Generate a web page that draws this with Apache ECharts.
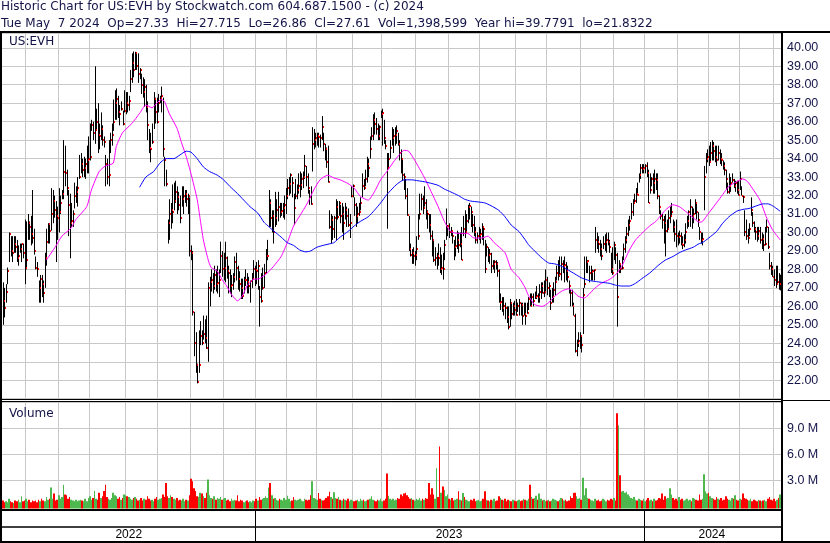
<!DOCTYPE html>
<html><head><meta charset="utf-8"><title>US:EVH</title>
<script src="https://cdn.jsdelivr.net/npm/echarts@6.0.0/dist/echarts.min.js"></script>
<style>html,body{margin:0;padding:0;background:#fff;}#chart{width:830px;height:543px;}</style>
</head><body><div id="chart"></div>
<script>
// ---------------- data ----------------
const firstDay = '2022-05-10';
const lastDay = '2024-05-07';
const marketHolidays = ['2022-05-30','2022-06-20','2022-07-04','2022-09-05','2022-11-24','2022-12-26',
  '2023-01-02','2023-01-16','2023-02-20','2023-04-07','2023-05-29','2023-06-19','2023-07-04','2023-09-04','2023-11-23','2023-12-25',
  '2024-01-01','2024-01-15','2024-02-19','2024-03-29'];
const headerLine1 = 'Historic Chart for US:EVH by Stockwatch.com 604.687.1500 - (c) 2024';
const headerLine2 = 'Tue May  7 2024  Op=27.33  Hi=27.715  Lo=26.86  Cl=27.61  Vol=1,398,599  Year hi=39.7791  lo=21.8322';
const symbolLabel = 'US:EVH';
const volumeLabel = 'Volume';
const priceRange = [21, 40.8];
const priceLabelRange = [22, 40];
const priceStep = 1;
const volumeRange = [0, 12];   // millions
const volumeStep = 3;

const high = [
27.3,27.0,27.2,28.1,30.0,29.8,29.8,29.8,29.8,29.6,
29.3,29.4,29.4,29.4,30.7,30.6,31.0,30.6,30.9,32.3,
30.2,28.7,28.4,27.4,27.7,27.7,27.4,28.9,30.2,30.5,
30.5,32.4,32.3,32.0,31.7,31.4,32.4,32.0,32.3,35.0,
34.7,33.4,32.3,32.1,31.6,31.2,32.7,32.5,33.0,34.2,
34.3,34.0,34.1,34.0,34.7,35.2,35.9,36.1,36.0,39.0,
36.7,37.0,35.9,36.5,35.8,35.2,34.2,34.0,35.0,35.4,
35.9,37.2,37.7,37.8,37.4,36.9,37.1,36.6,37.7,37.6,
37.6,37.4,38.8,39.7,39.8,39.78,39.7,39.7,38.9,38.6,
38.4,38.3,38.0,37.1,35.6,35.4,35.9,37.6,37.3,37.3,
37.5,37.4,37.9,37.3,34.1,33.4,30.7,31.8,31.6,32.6,
32.7,32.8,32.5,32.2,32.0,32.5,32.5,32.3,32.3,32.1,
31.9,29.3,29.0,25.7,24.6,22.9,24.7,25.2,24.7,25.5,
25.3,25.5,27.3,27.6,28.0,27.8,28.2,28.0,28.2,28.0,
29.5,29.0,28.9,29.5,28.7,28.2,28.0,27.7,27.8,28.7,
28.9,28.2,27.9,27.5,27.5,27.6,28.0,27.8,27.6,27.4,
27.8,28.5,28.2,28.4,28.5,27.1,27.8,28.1,28.3,29.1,
29.6,32.3,31.8,31.2,31.2,32.2,31.8,32.2,31.6,31.6,
31.6,32.0,32.4,32.9,33.0,33.2,33.0,32.1,32.9,32.6,
33.2,33.3,33.2,33.3,34.2,33.6,33.2,32.3,32.5,35.7,
35.6,35.4,35.4,35.4,35.3,36.3,35.4,34.8,34.6,34.7,
31.2,31.0,30.9,30.9,31.8,31.7,31.7,31.5,31.6,31.4,
31.6,31.4,31.3,31.0,32.5,32.6,31.9,31.6,31.4,31.6,
31.9,33.2,32.9,33.4,34.1,34.0,35.2,35.7,36.4,36.5,
36.2,35.9,35.8,36.6,36.7,36.1,35.0,34.3,34.3,35.0,
35.7,35.6,35.7,35.8,35.4,35.0,34.5,34.0,33.2,32.9,
32.4,30.9,29.4,29.1,29.2,29.0,29.8,31.0,32.1,32.1,
32.0,32.5,31.8,31.2,31.0,31.0,30.1,29.6,29.2,28.9,
29.4,29.2,28.8,28.9,29.6,31.3,30.4,30.5,30.3,30.1,
29.6,29.8,30.1,30.0,30.0,30.3,30.9,31.2,31.0,31.5,
31.6,31.4,31.0,30.9,30.3,30.0,30.3,30.2,30.5,30.3,
29.6,29.4,29.2,29.1,28.9,28.5,28.5,28.5,28.4,28.0,
26.7,26.5,26.5,26.2,26.0,26.0,26.4,26.2,26.2,26.3,
26.4,26.2,26.4,26.2,26.2,26.2,26.2,26.2,26.5,26.7,
26.7,26.7,26.8,27.1,26.7,27.2,27.3,27.3,27.4,28.0,
27.6,27.3,26.9,27.0,27.3,27.6,28.2,28.5,28.7,28.7,
28.5,28.7,28.4,28.2,27.4,26.9,26.9,26.2,25.6,24.2,
24.6,24.6,24.4,27.0,28.7,28.7,28.5,28.2,28.2,28.0,
28.0,30.3,30.0,29.8,29.6,29.4,29.8,29.9,30.0,30.0,
29.6,28.9,29.2,29.5,29.2,28.9,28.5,28.3,28.7,29.4,
29.8,30.3,30.7,30.9,31.6,31.8,32.1,32.4,32.7,33.2,
33.7,33.7,33.7,33.7,33.8,33.4,33.2,33.0,33.2,33.4,
33.2,33.2,32.0,31.2,31.0,30.9,31.0,30.7,31.2,31.4,
31.6,30.7,30.6,30.7,30.0,30.1,30.0,29.8,29.9,30.5,
30.9,31.2,31.8,31.4,31.3,31.8,31.6,31.1,30.3,30.0,
30.0,33.6,34.3,34.5,34.7,34.9,35.0,34.9,34.7,34.7,
34.7,34.5,34.3,33.9,33.8,33.4,32.7,33.2,33.0,33.2,
32.9,32.8,32.8,32.8,33.3,32.5,32.0,31.2,30.7,30.2,
30.5,31.9,31.1,30.6,30.3,30.3,30.3,30.3,30.0,29.9,
30.3,30.7,30.3,28.9,28.4,28.2,28.0,28.2,28.2,27.8,
27.715];

const low = [
25.0,25.4,26.2,27.2,28.4,28.7,28.4,28.9,28.9,28.4,
28.2,28.9,28.4,28.6,27.2,28.0,29.6,29.6,29.3,29.4,
28.8,28.0,27.6,26.2,26.2,26.5,26.2,27.0,28.2,29.4,
29.4,30.1,30.5,30.8,28.4,29.6,30.0,31.0,31.8,31.8,
32.5,32.0,29.8,28.6,30.3,30.3,31.3,31.6,31.4,32.9,
33.2,33.0,33.0,32.9,33.2,33.2,33.9,35.5,35.0,34.8,
35.5,34.3,34.5,35.0,34.7,34.6,32.5,32.6,32.5,34.3,
34.7,35.5,36.1,36.1,36.2,35.8,36.6,35.8,36.5,36.4,
36.5,36.6,37.6,38.1,38.4,38.8,38.8,38.1,38.3,37.5,
37.3,36.8,36.5,35.0,34.3,33.8,34.8,35.6,35.9,35.9,
36.5,37.0,36.5,34.1,32.5,32.5,29.4,29.6,30.2,30.5,
31.2,31.6,31.0,31.2,30.5,31.4,31.0,31.6,31.4,31.0,
28.7,28.5,25.5,23.3,22.4,21.83,22.4,23.9,23.9,24.2,
24.0,23.7,23.0,26.0,26.8,26.7,26.9,26.8,26.7,26.5,
27.8,27.6,27.4,27.3,27.5,26.7,26.7,26.5,26.9,27.3,
27.4,26.9,26.8,26.4,26.4,26.7,27.1,26.7,26.7,26.2,
27.0,27.5,27.1,27.2,26.9,24.9,26.2,26.9,27.0,27.8,
28.5,30.3,30.3,30.0,29.4,30.3,30.4,30.6,30.8,30.9,
30.8,30.7,31.0,31.8,32.0,32.1,31.9,30.4,31.8,31.8,
32.1,31.9,32.3,32.4,32.9,32.5,32.1,31.5,31.5,33.3,
34.5,34.6,34.7,34.6,34.6,35.0,34.4,33.9,33.5,32.7,
30.2,29.4,29.6,29.7,29.6,30.7,30.9,30.5,30.0,29.6,
30.7,30.3,30.3,29.7,31.9,31.9,30.9,30.3,30.5,30.9,
31.2,31.9,32.3,32.5,32.7,33.0,34.0,35.0,35.0,35.3,
35.3,35.0,35.0,36.2,34.7,34.8,34.5,30.2,33.5,34.0,
34.7,34.3,34.7,34.8,34.7,33.9,33.2,32.8,32.3,31.8,
30.9,29.0,28.7,28.3,28.3,28.2,28.5,29.6,30.7,31.2,
31.0,31.4,30.7,30.2,30.0,29.6,28.7,28.4,28.2,28.0,
28.2,27.8,27.7,27.45,28.5,29.6,29.8,29.7,29.8,29.4,
28.5,28.7,29.1,28.9,29.2,28.5,29.8,29.7,30.0,30.5,
30.7,30.3,30.0,29.8,29.4,29.4,29.6,29.4,29.6,29.3,
27.8,28.7,28.4,28.3,27.8,28.0,27.8,28.0,27.6,26.2,
25.8,25.7,25.5,25.3,25.1,24.75,24.9,25.3,25.5,25.5,
25.5,25.7,25.5,25.5,25.0,25.5,25.0,25.6,25.8,26.0,
26.0,26.0,26.4,26.4,26.2,26.2,26.4,26.7,26.5,26.7,
26.6,26.5,25.8,26.2,26.2,26.6,27.4,27.4,27.6,27.4,
27.8,27.3,27.4,27.3,26.7,26.0,26.0,25.5,23.5,23.3,
23.8,23.7,23.5,24.5,27.0,27.8,27.8,27.3,27.4,27.4,
27.4,28.9,29.1,28.9,28.7,28.5,29.1,29.0,28.9,29.3,
28.9,27.8,27.7,28.5,28.3,24.9,27.8,27.8,28.0,28.5,
28.9,29.4,29.8,30.1,30.7,30.9,31.6,31.6,32.0,32.7,
32.9,33.2,33.2,33.2,33.0,31.6,32.1,32.5,32.1,32.1,
32.3,31.8,31.0,30.7,30.2,29.4,28.7,30.0,30.2,30.5,
30.9,30.0,29.5,29.2,29.3,29.4,29.3,29.1,29.2,29.4,
30.2,30.3,30.3,30.2,30.5,31.0,30.7,30.3,29.6,29.4,
29.3,31.2,33.2,33.8,33.6,33.8,33.9,33.9,33.8,33.6,
33.9,33.7,33.6,33.4,33.1,32.3,32.1,32.1,32.2,32.7,
32.4,32.2,32.1,32.0,32.3,32.0,31.6,29.8,29.6,29.4,
29.8,30.9,30.3,30.0,29.6,29.5,29.6,29.4,29.1,29.0,
29.3,30.0,29.1,28.0,27.7,27.6,27.1,27.0,27.2,26.9,
26.86];

const close = [
26.3,25.9,26.8,27.9,29.9,29.0,28.9,29.4,29.2,28.6,
28.7,29.1,29.35,28.9,28.1,28.5,30.5,30.3,29.9,29.7,
29.0,28.05,28.0,27.0,27.5,27.2,26.7,28.6,29.5,30.45,
30.1,31.0,31.7,31.2,30.9,30.8,31.1,31.6,32.1,33.3,
33.2,32.4,31.5,30.5,30.6,31.0,32.0,32.2,32.4,33.0,
33.7,33.4,33.5,33.7,33.9,34.0,34.1,35.8,35.4,35.55,
36.0,35.3,35.2,35.6,35.0,34.9,33.7,33.0,33.1,35.0,
35.3,36.0,37.0,37.2,36.5,36.4,36.7,35.9,36.6,37.0,
36.9,37.1,38.3,39.2,38.8,39.7,39.0,38.6,38.8,38.0,
37.6,37.9,36.8,35.8,34.6,34.5,34.9,37.2,36.5,36.0,
37.0,37.3,37.4,34.5,33.9,32.6,30.5,31.0,31.2,31.1,
31.7,32.2,31.9,31.5,30.8,31.8,32.0,32.1,31.8,32.0,
29.0,28.9,25.7,24.0,22.85,21.9,22.8,24.4,24.0,24.5,
24.3,23.75,27.0,27.3,27.4,27.1,27.7,27.2,27.25,27.4,
28.7,28.0,28.1,28.6,27.9,27.8,27.1,27.15,27.6,28.4,
28.1,27.5,27.2,27.0,26.55,27.4,27.45,27.3,27.1,27.35,
27.5,28.0,27.95,27.9,28.2,26.5,26.3,27.0,27.8,28.7,
28.75,31.6,30.8,30.9,30.0,30.8,31.2,31.4,31.1,31.15,
31.3,31.5,32.0,32.4,32.6,33.1,32.7,31.3,32.0,32.3,
32.5,32.55,32.9,33.0,33.6,33.0,32.4,31.9,31.55,34.8,
35.0,35.1,35.2,35.15,35.1,35.7,34.8,34.5,33.8,32.75,
30.3,30.7,30.2,30.8,31.4,30.85,31.6,30.9,31.0,30.5,
31.2,30.9,30.4,30.5,32.0,32.5,31.5,30.9,31.0,31.1,
31.6,32.5,32.4,32.9,33.7,33.5,34.5,35.2,36.1,35.9,
35.6,35.25,35.7,36.4,36.45,35.1,34.7,33.5,34.0,34.6,
35.1,35.2,35.3,35.5,34.8,34.3,34.0,33.1,33.0,31.95,
30.95,29.1,28.8,28.9,28.7,28.8,29.1,29.8,31.0,31.8,
31.3,31.6,31.1,31.0,30.4,29.8,29.6,28.5,28.6,28.7,
28.6,28.0,28.05,28.0,29.3,30.3,30.35,30.0,30.1,29.8,
29.2,29.25,29.6,29.3,29.35,28.5,30.2,30.0,30.6,31.4,
31.45,31.1,30.4,30.0,29.6,29.8,29.85,29.9,30.3,30.2,
28.0,29.2,28.8,28.85,28.2,28.3,28.4,28.3,27.9,26.2,
26.25,25.9,26.0,25.9,25.4,24.9,26.2,25.6,26.0,25.8,
25.55,26.0,26.2,26.05,25.5,25.6,25.5,25.65,26.4,26.0,
26.5,26.3,26.5,26.55,26.5,26.8,27.1,26.7,26.75,27.4,
27.0,27.1,26.2,26.5,26.9,27.3,27.8,27.7,27.75,28.3,
28.2,28.25,27.9,27.6,27.1,26.7,26.0,25.5,23.6,24.0,
24.1,24.4,23.9,26.6,27.2,28.4,28.45,27.8,27.85,27.9,
27.95,29.6,29.5,29.4,29.1,28.7,29.4,29.5,29.6,29.5,
29.2,28.0,27.8,29.3,28.8,26.5,28.3,28.0,28.05,29.1,
29.6,29.9,30.4,30.6,31.1,31.6,31.7,32.1,32.05,33.1,
33.5,33.45,33.5,33.6,33.2,31.6,32.3,32.9,32.7,32.9,
32.85,31.95,31.4,30.9,30.7,30.5,30.1,30.2,30.8,30.9,
31.1,30.3,29.9,29.8,29.75,29.8,29.4,29.3,29.6,30.0,
30.6,31.1,31.4,30.9,31.0,31.6,31.1,30.7,30.0,29.6,
29.65,33.0,34.0,34.1,33.8,34.3,34.7,34.4,34.1,33.9,
34.3,34.0,33.95,33.6,33.4,32.9,32.2,32.5,32.7,32.85,
32.5,32.7,32.3,32.05,32.9,32.0,31.9,30.0,29.8,29.7,
30.2,31.2,30.5,30.2,30.0,29.8,30.1,29.6,29.65,29.3,
29.4,30.3,29.2,28.2,28.0,27.6,27.4,27.2,27.3,27.2,
27.61];

// daily volume, millions of shares
const volumeM = [
0.7,0.5,0.6,0.5,0.9,0.6,0.5,0.4,0.7,0.6,
0.8,0.5,1.2,0.6,0.7,0.9,0.6,0.8,0.5,0.7,
0.6,0.7,0.5,0.8,0.6,0.9,0.7,0.6,1.1,0.8,
0.9,2.2,0.9,1.5,0.7,0.8,1.3,0.9,1.1,2.5,
1.4,1.3,0.9,1.1,0.8,0.7,0.6,0.8,0.6,0.7,
0.8,0.7,0.6,0.9,0.6,1.0,1.2,0.8,1.0,1.8,
0.9,0.8,1.6,1.0,1.2,1.8,2.5,1.1,0.9,0.8,
1.0,1.6,1.3,1.2,0.9,1.1,0.8,1.0,1.4,1.3,
1.2,1.1,0.9,0.8,1.0,1.1,0.9,0.7,0.8,1.0,
0.7,0.9,0.8,1.2,0.9,0.7,0.8,0.6,0.9,1.1,
0.8,0.9,1.0,1.4,1.1,2.7,1.2,1.0,1.3,1.1,
0.9,0.8,1.0,0.7,0.8,0.7,0.9,0.6,0.8,0.7,
1.3,3.2,2.9,2.1,1.8,1.2,1.1,1.6,1.5,1.2,
1.0,1.6,3.1,1.3,1.0,0.9,1.2,0.8,1.0,0.9,
1.1,0.8,0.9,1.0,0.7,0.8,0.6,0.9,0.7,0.8,
0.7,1.3,0.6,0.8,0.7,0.5,0.6,0.7,0.5,0.6,
0.5,0.7,0.6,0.9,0.7,1.1,0.8,0.9,1.0,1.2,
1.0,2.2,2.7,1.3,0.9,1.0,0.8,0.7,0.9,0.8,
0.7,1.0,0.8,1.25,0.9,0.6,0.7,1.1,0.8,0.7,
0.8,0.9,0.7,0.6,0.9,0.8,0.7,0.8,1.3,2.9,
1.0,0.9,0.8,1.55,0.9,0.8,0.7,0.8,1.0,1.2,
1.7,1.1,0.9,1.65,1.0,0.9,1.1,0.8,0.7,0.9,
0.8,0.7,0.9,0.6,0.8,0.7,0.6,0.7,0.8,0.6,
0.9,0.7,0.8,0.6,0.7,0.8,0.9,1.2,0.8,0.7,
0.6,0.8,0.7,0.9,0.6,0.7,0.9,3.8,1.25,0.9,
0.8,0.9,0.7,0.8,1.0,0.9,1.4,1.2,1.5,1.6,
1.3,1.1,0.9,1.0,0.8,0.7,0.9,0.8,1.0,0.7,
0.9,0.8,1.0,0.9,2.7,1.4,2.1,1.4,0.9,4.4,
1.1,6.9,1.6,2.3,1.9,1.2,1.4,0.9,0.8,1.0,
0.7,0.8,0.9,1.75,0.8,0.7,1.55,1.1,0.8,0.7,
0.6,0.8,0.7,0.9,0.6,0.7,0.8,0.6,0.7,0.9,
1.75,0.8,0.7,0.6,0.8,0.7,0.9,0.6,0.7,1.2,
1.0,0.8,0.7,0.9,0.6,0.8,0.7,0.6,0.8,0.7,
0.6,0.7,0.8,0.6,0.7,0.9,0.8,0.7,0.9,2.5,
1.1,0.9,1.0,1.25,0.8,1.5,0.9,0.7,0.8,0.6,
0.7,0.8,0.6,0.7,0.9,0.8,0.7,0.6,0.8,1.0,
0.9,0.7,0.8,0.6,0.7,1.2,1.0,1.55,1.6,1.2,
0.9,1.0,0.8,3.3,1.3,2.1,1.0,0.9,0.8,0.7,
0.6,0.9,0.7,0.8,0.6,0.7,0.9,0.8,0.6,0.8,
0.7,0.9,0.8,1.0,0.7,10.7,9.3,3.6,1.7,1.8,
1.6,1.7,1.4,1.2,1.0,0.9,1.1,0.8,0.7,0.9,
0.8,0.7,0.9,0.6,0.8,1.0,0.7,0.8,0.6,0.9,
0.7,0.8,1.0,0.9,1.5,0.8,1.2,0.9,1.0,2.1,
1.4,1.0,0.8,0.9,0.7,1.1,0.8,0.9,0.7,0.8,
0.9,0.7,0.8,0.6,1.0,0.9,0.8,0.7,1.4,0.8,
0.9,3.7,1.75,1.5,1.6,1.2,1.0,0.9,0.8,1.1,
0.9,0.8,1.0,0.7,0.8,1.2,0.9,0.8,0.7,1.0,
0.9,1.3,0.8,0.7,0.9,0.8,1.5,1.0,0.9,0.8,
0.7,0.9,0.6,0.8,0.7,0.6,0.8,0.7,0.6,0.7,
0.8,0.6,0.9,1.1,0.8,0.7,0.9,0.6,0.8,1.0,
1.4];

// moving averages: [trading-day index, price]
const maFast = [[28,28.5],[34,29.25],[38,29.8],[44,30.25],[47,30.7],[54,31.4],[57,32.3],[62,33.3],[66,33.6],[71,33.75],[73,34.65],[77,35.4],[83,35.9],[88,36.45],[92,36.9],[96,36.75],[99,37.0],[102,37.2],[104,37.1],[107,36.45],[112,35.65],[115,34.85],[118,34.1],[121,33.2],[125,31.8],[127,30.7],[129,29.6],[132,28.55],[134,28.1],[138,27.9],[141,27.45],[144,27.1],[147,26.65],[151,26.3],[154,26.55],[157,27.1],[161,27.45],[165,27.5],[170,27.8],[174,28.15],[179,28.7],[183,29.45],[187,30.35],[191,30.9],[196,31.6],[200,32.3],[204,32.85],[209,33.1],[213,32.95],[217,32.85],[222,32.65],[226,32.4],[230,31.95],[235,31.75],[239,32.2],[243,32.85],[247,33.3],[252,33.9],[256,34.3],[258,34.45],[261,34.4],[265,33.9],[271,33.0],[275,32.3],[280,31.4],[284,30.6],[288,30.05],[293,29.95],[299,29.95],[303,29.7],[308,29.7],[312,29.8],[316,29.45],[323,28.9],[327,28.0],[332,27.55],[336,27.0],[338,26.6],[342,26.1],[347,26.0],[351,26.2],[355,26.55],[360,26.85],[364,26.95],[367,26.8],[370,26.55],[374,26.45],[377,26.65],[381,27.0],[385,27.25],[390,27.45],[394,27.7],[398,28.15],[403,29.05],[407,29.6],[411,29.95],[416,30.35],[420,30.6],[422,30.8],[426,31.2],[431,31.5],[435,31.4],[439,31.15],[444,30.8],[448,30.55],[450,30.6],[454,31.05],[459,31.6],[463,32.05],[467,32.5],[472,32.75],[476,32.9],[479,32.75],[482,32.4],[487,31.75],[491,30.85],[495,30.15],[500,29.6]];
const maSlow = [[88,32.45],[92,33.0],[97,33.3],[101,33.75],[105,34.0],[110,34.0],[114,34.2],[118,34.4],[121,34.35],[125,34.0],[129,33.55],[133,33.3],[138,33.1],[142,32.85],[146,32.5],[151,32.1],[155,31.75],[159,31.4],[164,31.05],[168,30.55],[170,30.4],[174,30.1],[179,29.75],[183,29.45],[187,29.3],[191,29.05],[195,28.95],[198,29.0],[202,29.2],[206,29.3],[211,29.4],[213,29.45],[217,29.75],[222,30.05],[226,30.35],[230,30.6],[235,30.85],[239,31.2],[243,31.6],[247,32.05],[252,32.5],[254,32.65],[258,32.85],[263,32.85],[267,32.8],[271,32.75],[276,32.65],[280,32.55],[284,32.35],[288,32.2],[293,32.0],[297,31.8],[301,31.7],[306,31.65],[310,31.6],[314,31.45],[319,31.2],[323,30.85],[327,30.4],[332,30.05],[336,29.6],[338,29.35],[342,29.0],[347,28.6],[351,28.35],[355,28.3],[360,28.15],[364,27.95],[368,27.75],[372,27.55],[377,27.4],[381,27.35],[385,27.3],[390,27.25],[394,27.15],[398,27.1],[403,27.1],[407,27.25],[411,27.5],[416,27.8],[420,28.1],[422,28.25],[426,28.5],[431,28.7],[435,28.9],[439,29.05],[444,29.2],[448,29.4],[450,29.45],[454,29.7],[459,30.05],[463,30.5],[467,30.85],[472,31.15],[476,31.25],[480,31.3],[485,31.45],[489,31.55],[492,31.55],[495,31.45],[500,31.15]];

// ---------------- build ----------------
function tradingDays() {
  const out = [];
  const d = new Date(firstDay + 'T00:00:00Z');
  const end = new Date(lastDay + 'T00:00:00Z');
  while (d <= end) {
    const wd = d.getUTCDay();
    const s = d.toISOString().slice(0, 10);
    if (wd !== 0 && wd !== 6 && marketHolidays.indexOf(s) < 0) out.push(s);
    d.setUTCDate(d.getUTCDate() + 1);
  }
  return out;
}
const days = tradingDays();
const monthStart = new Set(), yearStart = new Set(), yearMid = new Set();
for (let i = 1; i < days.length; i++) {
  if (days[i].slice(0, 7) !== days[i - 1].slice(0, 7)) monthStart.add(i);
  if (days[i].slice(0, 4) !== days[i - 1].slice(0, 4)) yearStart.add(i);
}
const bounds = [0].concat(Array.from(yearStart)).concat([days.length]);
for (let k = 0; k < bounds.length - 1; k++) yearMid.add(Math.floor((bounds[k] + bounds[k + 1] - 1) / 2));

const GREEN = '#4db84d', RED = '#ff0000', GREY = '#a8a8a8';
const TEXT = '#141448';
const GRIDC = '#c8c8c8';
const ohlc = high.map((h, i) => [i, h, low[i], close[i]]);
const closes = close.map((c, i) => [i, c]);
const vols = volumeM.map((v, i) => [i, v, i === 0 ? -1 : Math.sign(close[i] - close[i - 1])]);

function renderBar(params, api) {
  const i = api.value(0);
  const ph = api.coord([i, api.value(1)]);
  const pl = api.coord([i, api.value(2)]);
  const x = Math.round(ph[0]) + 0.5;
  return { type: 'line', shape: { x1: x, y1: ph[1], x2: x, y2: pl[1] }, style: { stroke: '#000', lineWidth: 1 } };
}
function renderClose(params, api) {
  const i = api.value(0);
  const pc = api.coord([i, api.value(1)]);
  const x = Math.round(pc[0]) + 1;
  return { type: 'rect', shape: { x: x, y: Math.round(pc[1]) - 1, width: 1, height: 2 }, style: { fill: '#ff0000' } };
}
function renderVol(params, api) {
  const i = api.value(0);
  const top = api.coord([i, api.value(1)]);
  const w = api.size([1, 0])[0];
  const x0 = Math.round(top[0] - w / 2), x1 = Math.round(top[0] + w / 2);
  const base = params.coordSys.y + params.coordSys.height + 2;
  const f = api.value(2);
  return {
    type: 'rect',
    shape: { x: x0, y: top[1], width: Math.max(1, x1 - x0), height: base - top[1] },
    style: { fill: f > 0 ? GREEN : (f < 0 ? RED : GREY) }
  };
}

const catAxis = (gi) => ({
  type: 'category', gridIndex: gi, data: days, boundaryGap: true,
  axisLine: { show: false }, axisTick: { show: false }, axisLabel: { show: false },
  splitLine: { show: true, interval: (i) => monthStart.has(i), lineStyle: { color: GRIDC, width: 1 } }
});

const chart = echarts.init(document.getElementById('chart'), null, { renderer: 'canvas' });
chart.setOption({
  animation: false,
  backgroundColor: '#ffffff',
  grid: [
    { left: 2, top: 33, width: 779, height: 365.7 },
    { left: 2, top: 402, width: 779, height: 104.6 },
    { left: 2, top: 510.5, width: 779, height: 16 }
  ],
  xAxis: [
    catAxis(0),
    catAxis(1),
    {
      type: 'category', gridIndex: 2, data: days, boundaryGap: true,
      axisLine: { show: true, lineStyle: { color: '#000', width: 1.5 } },
      axisTick: { show: true, interval: (i) => yearStart.has(i), length: 15, lineStyle: { color: '#000', width: 1 } },
      axisLabel: { show: true, interval: (i) => yearMid.has(i), formatter: (v) => v.slice(0, 4), margin: 2,
        color: '#000', fontSize: 12, fontFamily: 'Liberation Sans' },
      splitLine: { show: true, interval: (i) => yearStart.has(i), lineStyle: { color: '#000', width: 1 } }
    }
  ],
  yAxis: [
    {
      type: 'value', gridIndex: 0, position: 'right', min: priceRange[0], max: priceRange[1], interval: priceStep,
      axisLine: { show: false }, axisTick: { show: false },
      axisLabel: { margin: 6, color: TEXT, fontSize: 12.5, fontFamily: 'Liberation Sans',
        formatter: (v) => (v >= priceLabelRange[0] - 1e-6 && v <= priceLabelRange[1] + 1e-6 && Math.abs(v - Math.round(v)) < 1e-6) ? v.toFixed(2) : '' },
      splitLine: { show: true, lineStyle: { color: GRIDC, width: 1 } }
    },
    {
      type: 'value', gridIndex: 1, position: 'right', min: volumeRange[0], max: volumeRange[1], interval: volumeStep,
      axisLine: { show: false }, axisTick: { show: false },
      axisLabel: { margin: 6, color: TEXT, fontSize: 12.5, fontFamily: 'Liberation Sans',
        formatter: (v) => (v > volumeRange[0] && v < volumeRange[1]) ? v.toFixed(1) + ' M' : '' },
      splitLine: { show: true, lineStyle: { color: GRIDC, width: 1 } }
    },
    { type: 'value', gridIndex: 2, show: false, min: 0, max: 1 }
  ],
  series: [
    { type: 'custom', name: 'range', xAxisIndex: 0, yAxisIndex: 0, data: ohlc, renderItem: renderBar, z: 2, silent: true },
    { type: 'custom', name: 'close', xAxisIndex: 0, yAxisIndex: 0, data: closes, renderItem: renderClose, z: 3, silent: true },
    { type: 'line', name: 'maFast', xAxisIndex: 0, yAxisIndex: 0, data: maFast, showSymbol: false, smooth: 0.2,
      lineStyle: { color: '#ff00ff', width: 1 }, z: 4, silent: true },
    { type: 'line', name: 'maSlow', xAxisIndex: 0, yAxisIndex: 0, data: maSlow, showSymbol: false, smooth: 0.2,
      lineStyle: { color: '#0000ff', width: 1 }, z: 4, silent: true },
    { type: 'custom', name: 'volume', xAxisIndex: 1, yAxisIndex: 1, data: vols, renderItem: renderVol, z: 2, silent: true }
  ],
  graphic: [
    { type: 'rect', z: 100, shape: { x: 0, y: 31, width: 830, height: 2 }, style: { fill: '#000' } },
    { type: 'rect', z: 100, shape: { x: 0, y: 31, width: 2, height: 512 }, style: { fill: '#000' } },
    { type: 'rect', z: 100, shape: { x: 781, y: 31, width: 2, height: 512 }, style: { fill: '#000' } },
    { type: 'rect', z: 100, shape: { x: 0, y: 541, width: 830, height: 2 }, style: { fill: '#000' } },
    { type: 'rect', z: 100, shape: { x: 0, y: 399, width: 783, height: 1 }, style: { fill: '#000' } },
    { type: 'rect', z: 100, shape: { x: 0, y: 401, width: 783, height: 1 }, style: { fill: '#000' } },
    { type: 'rect', z: 100, shape: { x: 783, y: 400, width: 47, height: 1 }, style: { fill: '#000' } },
    { type: 'rect', z: 100, shape: { x: 0, y: 509, width: 783, height: 2 }, style: { fill: '#000' } },
    { type: 'text', z: 100, x: 1, y: 7, style: { text: headerLine1, font: '12px "DejaVu Sans"', fill: TEXT, verticalAlign: 'middle', textVerticalAlign: 'middle' } },
    { type: 'text', z: 100, x: 1, y: 23.5, style: { text: headerLine2, font: '12px "DejaVu Sans"', fill: TEXT, verticalAlign: 'middle', textVerticalAlign: 'middle' } },
    { type: 'text', z: 100, x: 9, y: 42, style: { text: symbolLabel, font: '12px "DejaVu Sans"', fill: TEXT, verticalAlign: 'middle', textVerticalAlign: 'middle' } },
    { type: 'text', z: 100, x: 9, y: 413.5, style: { text: volumeLabel, font: '12px "DejaVu Sans"', fill: TEXT, verticalAlign: 'middle', textVerticalAlign: 'middle' } }
  ]
});
</script></body></html>
